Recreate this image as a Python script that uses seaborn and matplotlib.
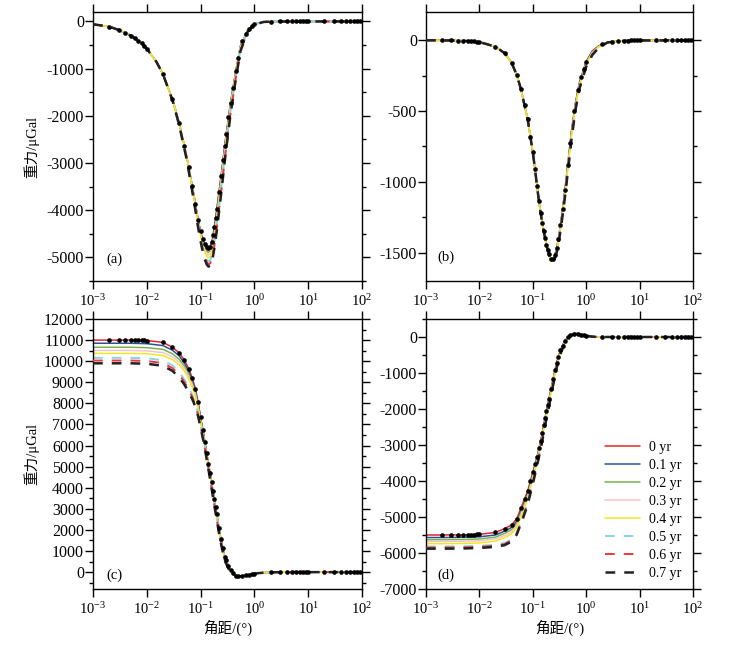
import matplotlib
matplotlib.use("Agg")
import matplotlib.pyplot as plt
import seaborn as sns
import numpy as np
from matplotlib.ticker import MultipleLocator, NullLocator, LogLocator

# ---------------- data ----------------
labels = ["0 yr", "0.1 yr", "0.2 yr", "0.3 yr", "0.4 yr", "0.5 yr", "0.6 yr", "0.7 yr"]

# panel (a)
xa = [0.001, 0.002, 0.003, 0.005, 0.0075, 0.01, 0.015, 0.02, 0.03, 0.04, 0.055,
      0.075, 0.09, 0.1, 0.11, 0.12, 0.13, 0.14, 0.15, 0.165, 0.18, 0.2, 0.24, 0.29,
      0.36, 0.45, 0.55, 0.75, 1.0, 1.5, 2.5, 5, 100]
a_head = [-60, -110, -180, -300, -430, -580, -850, -1120, -1650, -2150, -2850]
a_0 = a_head + [-3670, -4200, -4450, -4620, -4720, -4780, -4800, -4770, -4620, -4350, -3970, -3270, -2500, -1720, -1060, -520, -180, -55, -8, -2, 0, 0]
a_1 = a_head + [-3680, -4215, -4470, -4650, -4760, -4825, -4845, -4815, -4670, -4400, -4020, -3310, -2530, -1740, -1070, -528, -183, -56, -8, -2, 0, 0]
a_2 = a_head + [-3690, -4230, -4490, -4680, -4800, -4870, -4895, -4865, -4720, -4455, -4075, -3355, -2565, -1760, -1085, -536, -186, -57, -8, -2, 0, 0]
a_3 = a_head + [-3700, -4245, -4510, -4710, -4840, -4920, -4950, -4920, -4780, -4515, -4135, -3405, -2600, -1790, -1100, -545, -190, -58, -8, -2, 0, 0]
a_4 = a_head + [-3710, -4260, -4530, -4745, -4885, -4975, -5010, -4985, -4845, -4580, -4200, -3455, -2640, -1820, -1120, -555, -195, -60, -9, -2, 0, 0]
a_5 = [-60, -110, -180, -300, -430, -580, -850, -1120, -1660, -2170, -2880] + [-3740, -4300, -4580, -4800, -4950, -5045, -5085, -5065, -4935, -4680, -4310, -3560, -2730, -1890, -1170, -590, -205, -63, -10, -2, 0, 0]
a_6 = [-60, -110, -180, -300, -430, -580, -850, -1120, -1665, -2185, -2900] + [-3770, -4330, -4620, -4850, -5000, -5100, -5145, -5130, -5010, -4760, -4390, -3630, -2800, -1950, -1210, -615, -215, -65, -10, -2, 0, 0]
a_7 = [-60, -110, -180, -300, -430, -580, -850, -1120, -1670, -2200, -2920] + [-3800, -4370, -4660, -4890, -5045, -5150, -5195, -5180, -5060, -4810, -4440, -3670, -2830, -1970, -1230, -630, -220, -67, -10, -2, 0, 0]

# panel (b)
xb = [0.001, 0.002, 0.005, 0.01, 0.02, 0.03, 0.04, 0.05, 0.06, 0.07, 0.08, 0.09, 0.1,
      0.11, 0.12, 0.135, 0.155, 0.18, 0.205, 0.225, 0.25, 0.28, 0.31, 0.35, 0.4, 0.46,
      0.53, 0.63, 0.75, 1.0, 1.3, 1.7, 2.5, 4, 10, 100]
b_head = [0, 0, -3, -12, -45, -92, -158, -245, -345, -460, -555, -680, -790, -910, -1030, -1180, -1320, -1445, -1525]
b_tail = [-15, -5, -1, 0]
b_0 = b_head + [-1555, -1540, -1470, -1375, -1230, -1055, -850, -640, -440, -295, -150, -75, -40] + b_tail
b_1 = b_head + [-1556, -1542, -1474, -1380, -1236, -1062, -858, -648, -447, -301, -155, -79, -42] + b_tail
b_2 = b_head + [-1557, -1544, -1478, -1385, -1242, -1069, -866, -656, -454, -307, -160, -83, -44] + b_tail
b_3 = b_head + [-1558, -1546, -1482, -1390, -1248, -1076, -874, -664, -461, -313, -165, -87, -46] + b_tail
b_4 = b_head + [-1559, -1548, -1486, -1395, -1254, -1083, -882, -672, -468, -319, -170, -91, -48] + b_tail
b_5 = b_head + [-1560, -1551, -1492, -1403, -1263, -1093, -893, -683, -478, -328, -177, -96, -51] + b_tail
b_6 = b_head + [-1561, -1553, -1496, -1408, -1269, -1100, -901, -691, -485, -334, -182, -100, -53] + b_tail
b_7 = b_head + [-1562, -1555, -1500, -1413, -1275, -1107, -909, -699, -492, -340, -187, -104, -55] + b_tail

# panel (c)
xc = [0.001, 0.002, 0.005, 0.01, 0.02, 0.03, 0.04, 0.05, 0.06, 0.07, 0.08, 0.09, 0.1,
      0.115, 0.13, 0.15, 0.175, 0.2, 0.23, 0.28, 0.35, 0.45, 0.6, 0.8, 1.1, 1.6, 2.5, 5, 100]
c_0 = [11000, 11000, 11000, 10980, 10890, 10660, 10390, 10050, 9650, 9200, 8700, 8050, 7350, 6480, 5630, 4700, 3640, 2750, 1780, 740, 150, -170, -190, -120, -55, -18, -5, 0, 0]
c_1 = [10850, 10850, 10850, 10830, 10740, 10520, 10250, 9910, 9520, 9080, 8600, 7970, 7290, 6440, 5600, 4670, 3610, 2720, 1755, 720, 135, -175, -190, -120, -55, -18, -5, 0, 0]
c_2 = [10660, 10660, 10660, 10640, 10560, 10350, 10090, 9770, 9390, 8970, 8500, 7890, 7230, 6400, 5570, 4640, 3580, 2690, 1730, 700, 120, -180, -190, -120, -55, -18, -5, 0, 0]
c_3 = [10510, 10510, 10510, 10490, 10410, 10210, 9960, 9650, 9280, 8870, 8410, 7820, 7170, 6360, 5540, 4610, 3550, 2660, 1705, 680, 105, -185, -190, -120, -55, -18, -5, 0, 0]
c_4 = [10370, 10370, 10370, 10350, 10270, 10070, 9830, 9530, 9170, 8770, 8320, 7750, 7110, 6320, 5510, 4580, 3520, 2630, 1680, 660, 90, -190, -190, -120, -55, -18, -5, 0, 0]
c_5 = [10160, 10160, 10160, 10140, 10040, 9800, 9490, 9130, 8760, 8400, 8000, 7500, 6950, 6200, 5420, 4490, 3430, 2550, 1610, 600, 60, -200, -195, -122, -56, -18, -5, 0, 0]
c_6 = [10030, 10030, 10030, 10010, 9910, 9670, 9360, 9010, 8650, 8300, 7920, 7440, 6900, 6160, 5380, 4450, 3390, 2510, 1580, 575, 45, -205, -195, -122, -56, -18, -5, 0, 0]
c_7 = [9900, 9900, 9900, 9880, 9780, 9540, 9230, 8890, 8540, 8200, 7840, 7380, 6850, 6120, 5340, 4410, 3350, 2470, 1550, 550, 30, -210, -195, -122, -56, -18, -5, 0, 0]

# panel (d)
xd = [0.001, 0.002, 0.005, 0.01, 0.02, 0.03, 0.04, 0.05, 0.065, 0.08, 0.1, 0.12, 0.145,
      0.17, 0.2, 0.24, 0.28, 0.33, 0.4, 0.47, 0.57, 0.7, 0.9, 1.2, 1.6, 3, 100]
d_0 = [-5500, -5500, -5495, -5480, -5430, -5320, -5220, -5050, -4620, -4280, -3760, -3330, -2780, -2240, -1730, -1165, -710, -360, -100, 20, 95, 90, 50, 15, 0, 0, 0]
d_1 = [-5570, -5570, -5565, -5550, -5500, -5390, -5290, -5120, -4690, -4340, -3810, -3370, -2810, -2270, -1760, -1190, -730, -375, -108, 15, 93, 90, 50, 15, 0, 0, 0]
d_2 = [-5630, -5630, -5625, -5610, -5560, -5450, -5350, -5180, -4750, -4390, -3850, -3400, -2840, -2300, -1790, -1215, -750, -390, -116, 10, 91, 90, 50, 15, 0, 0, 0]
d_3 = [-5680, -5680, -5675, -5660, -5610, -5510, -5410, -5240, -4810, -4440, -3890, -3430, -2870, -2330, -1820, -1240, -770, -405, -124, 5, 89, 89, 50, 15, 0, 0, 0]
d_4 = [-5740, -5740, -5735, -5720, -5670, -5570, -5470, -5300, -4870, -4490, -3930, -3460, -2900, -2360, -1850, -1265, -790, -420, -132, 0, 87, 89, 50, 15, 0, 0, 0]
d_5 = [-5820, -5820, -5815, -5800, -5770, -5720, -5620, -5430, -4990, -4600, -4020, -3540, -2970, -2420, -1910, -1310, -830, -450, -150, -10, 82, 88, 50, 15, 0, 0, 0]
d_6 = [-5850, -5850, -5845, -5830, -5800, -5750, -5650, -5460, -5020, -4630, -4050, -3560, -2990, -2440, -1930, -1325, -840, -458, -155, -13, 80, 88, 50, 15, 0, 0, 0]
d_7 = [-5880, -5880, -5875, -5860, -5830, -5780, -5680, -5490, -5050, -4660, -4080, -3580, -3010, -2460, -1950, -1340, -850, -465, -160, -16, 78, 87, 50, 15, 0, 0, 0]

# reference points (black dots)
dot_x = [0.002, 0.003, 0.004, 0.005, 0.006, 0.007, 0.008, 0.009, 0.01,
         0.02, 0.03, 0.04, 0.05, 0.06, 0.07, 0.08, 0.09, 0.1,
         0.11, 0.12, 0.13, 0.14, 0.15, 0.16, 0.17, 0.18, 0.19, 0.2,
         0.22, 0.24, 0.26, 0.28, 0.3, 0.33, 0.36, 0.4, 0.45, 0.5,
         0.6, 0.7, 0.8, 0.9, 1, 2, 3, 4, 5, 6, 7, 8, 9, 10,
         20, 30, 40, 50, 60, 70, 80, 90]
dots_a = [-110, -180, -248, -300, -358, -408, -464, -525, -580,
          -1120, -1650, -2150, -2640, -3080, -3487, -3858, -4200, -4450,
          -4620, -4720, -4780, -4800, -4770, -4668, -4528, -4350, -4155, -3970,
          -3604, -3270, -2944, -2643, -2378, -2032, -1720, -1410, -1060, -777,
          -425, -256, -152, -101, -55, -4, 0, 0, 0, 0, 0, 0, 0, 0,
          0, 0, 0, 0, 0, 0, 0, 0]
dots_b = [0, -1, -2, -3, -4, -6, -8, -10, -12,
          -45, -92, -158, -245, -345, -460, -555, -680, -790,
          -910, -1030, -1132, -1217, -1287, -1346, -1394, -1445, -1478, -1510,
          -1548, -1546, -1516, -1470, -1405, -1301, -1193, -1055, -883, -726,
          -497, -353, -262, -203, -150, -25, -9, -5, -3, -2, -1, -1, -1, -1,
          0, 0, 0, 0, 0, 0, 0, 0]
dots_c = [11000, 11000, 11000, 11000, 11000, 10995, 10990, 10985, 10980,
          10890, 10660, 10390, 10050, 9650, 9200, 8700, 8050, 7350,
          6758, 6183, 5630, 5147, 4700, 4255, 3841, 3453, 3090, 2750,
          2090, 1555, 1130, 740, 555, 305, 115, -20, -170, -185,
          -190, -150, -120, -95, -70, -10, -3, -1, 0, 0, 0, 0, 0, 0,
          0, 0, 0, 0, 0, 0, 0, 0]
dots_d = [-5500, -5500, -5498, -5495, -5492, -5490, -5487, -5484, -5480,
          -5430, -5320, -5220, -5050, -4751, -4499, -4280, -4005, -3760,
          -3535, -3330, -3097, -2884, -2667, -2440, -2240, -2060, -1890, -1730,
          -1436, -1165, -928, -710, -563, -360, -243, -100, -12, 44,
          94, 90, 69, 50, 37, 0, 0, 0, 0, 0, 0, 0, 0, 0,
          0, 0, 0, 0, 0, 0, 0, 0]

panels = [
    ("(a)", xa, [a_0, a_1, a_2, a_3, a_4, a_5, a_6, a_7], dots_a),
    ("(b)", xb, [b_0, b_1, b_2, b_3, b_4, b_5, b_6, b_7], dots_b),
    ("(c)", xc, [c_0, c_1, c_2, c_3, c_4, c_5, c_6, c_7], dots_c),
    ("(d)", xd, [d_0, d_1, d_2, d_3, d_4, d_5, d_6, d_7], dots_d),
]

# ---------------- style ----------------
colors = ["#e3262b", "#2d4f9e", "#74b44a", "#f6c3cf", "#f0e626", "#8ad3e3", "#e8383d", "#222222"]
dash = (0, (7.0, 6.5))
styles = ["-", "-", "-", "-", "-", dash, dash, dash]
widths = [1.1, 1.1, 1.1, 1.1, 1.1, 1.4, 1.4, 1.8]

sns.set_style("ticks")
plt.rcParams["font.family"] = ["Liberation Serif", "Noto Sans CJK SC", "DejaVu Sans"]
plt.rcParams["mathtext.fontset"] = "custom"
plt.rcParams["mathtext.rm"] = "Liberation Serif"
plt.rcParams["mathtext.it"] = "Liberation Serif:italic"
plt.rcParams["axes.unicode_minus"] = False
plt.rcParams["lines.scale_dashes"] = False
for k in ["axes.edgecolor", "xtick.color", "ytick.color", "text.color", "axes.labelcolor"]:
    plt.rcParams[k] = "black"

fig = plt.figure(figsize=(7.31, 6.46), dpi=100)
W, H = 731.0, 646.0
rects = [
    (93, 12, 362, 281),
    (426, 12, 693, 281),
    (93, 319, 362, 589),
    (426, 319, 693, 589),
]
ylims = [(-5500, 200), (-1700, 200), (-800, 12000), (-7000, 500)]
ymaj = [1000, 500, 1000, 1000]
ymin = [500, 250, 500, 500]
label_pos = [(0.048, 0.082), (0.041, 0.09), (0.048, 0.052), (0.042, 0.052)]

axes = []
for i, (lab, xs, series, dots) in enumerate(panels):
    l, t, r, b = rects[i]
    ax = fig.add_axes([l / W, 1 - b / H, (r - l) / W, (b - t) / H])
    axes.append(ax)
    handles = []
    for j in range(8):
        sns.lineplot(x=np.array(xs), y=np.array(series[j], dtype=float), ax=ax,
                     color=colors[j], linewidth=widths[j], linestyle=styles[j],
                     label=labels[j], legend=False, sort=False, zorder=2 + j * 0.1)
        handles.append(ax.get_lines()[-1])
    sns.scatterplot(x=np.array(dot_x), y=np.array(dots, dtype=float), ax=ax,
                    color="black", s=11, linewidth=0, zorder=5, legend=False)
    ax.set_xscale("log")
    ax.set_xlim(1e-3, 1e2)
    ax.set_ylim(*ylims[i])
    ax.xaxis.set_major_locator(LogLocator(base=10, numticks=10))
    ax.xaxis.set_minor_locator(NullLocator())
    ax.yaxis.set_major_locator(MultipleLocator(ymaj[i]))
    ax.yaxis.set_minor_locator(MultipleLocator(ymin[i]))
    ax.tick_params(which="both", direction="out", top=True, right=True,
                   labeltop=False, labelright=False, width=1.0)
    ax.tick_params(which="major", length=6)
    ax.tick_params(which="minor", length=3)
    ax.tick_params(axis="y", which="major", pad=0.5, labelsize=11.5)
    ax.tick_params(axis="x", which="major", pad=2.5, labelsize=10.5)
    for s in ax.spines.values():
        s.set_linewidth(1.0)
        s.set_color("black")
    ax.set_xlabel("")
    ax.set_ylabel("")
    ax.text(label_pos[i][0], label_pos[i][1], lab, transform=ax.transAxes,
            fontsize=10.5, va="center", ha="left")
    if i in (0, 2):
        ax.set_ylabel("重力/μGal", fontsize=10.5)
        ax.yaxis.set_label_coords(-0.2, 0.5)
    if i in (2, 3):
        ax.set_xlabel("角距/(°)", fontsize=10.5)
        ax.xaxis.set_label_coords(0.5, -0.115)
    if i == 3:
        ax.legend(handles=handles, labels=labels, loc="upper left",
                  bbox_to_anchor=(0.67, 0.548), frameon=False, fontsize=10,
                  handlelength=2.5, handletextpad=0.7, labelspacing=0.36,
                  borderaxespad=0, borderpad=0)

fig.savefig("out.png", dpi=100)
